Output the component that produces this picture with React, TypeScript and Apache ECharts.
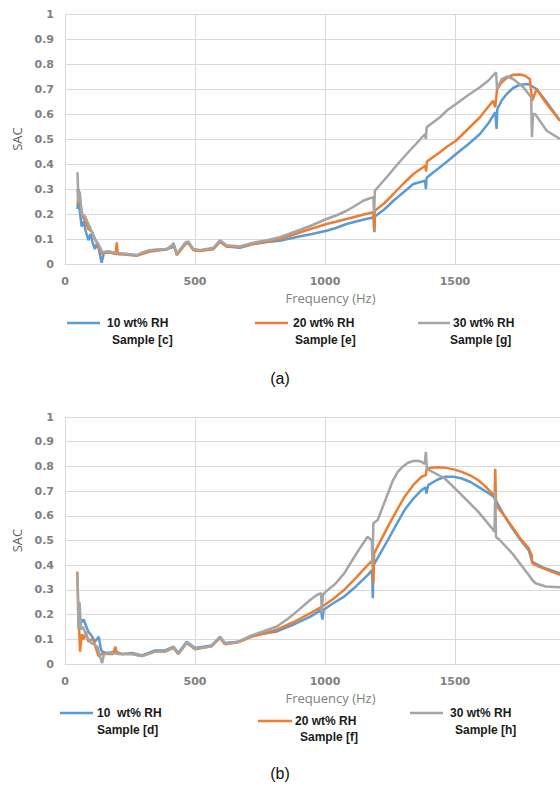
import React, { useEffect, useRef } from "react";
import * as echarts from "echarts";

const xTicks = [0, 500, 1000, 1500];
const yMax = 1;
const xMax = 1904;

const seriesNamesA = ["10 wt% RH Sample [c]", "20 wt% RH Sample [e]", "30 wt% RH Sample [g]"];
const seriesNamesB = ["10  wt% RH Sample [d]", "20 wt% RH Sample [f]", "30 wt% RH Sample [h]"];
const legendLine1A = ["10 wt% RH", "20 wt% RH", "30 wt% RH"];
const legendLine2A = ["Sample [c]", "Sample [e]", "Sample [g]"];
const legendLine1B = ["10  wt% RH", "20 wt% RH", "30 wt% RH"];
const legendLine2B = ["Sample [d]", "Sample [f]", "Sample [h]"];
const colors = ["#5B9BD5", "#ED7D31", "#A5A5A5"];

// Chart (a)
const blueA: [number, number][] = [
  [48, 0.22], [52, 0.3], [56, 0.22], [64, 0.15], [72, 0.17], [80, 0.13], [90, 0.095], [98, 0.12],
  [108, 0.08], [115, 0.06], [122, 0.08], [130, 0.06], [141, 0.005], [150, 0.045], [170, 0.05],
  [200, 0.04], [240, 0.04], [276, 0.035], [295, 0.042], [330, 0.055], [390, 0.06], [410, 0.065],
  [417, 0.08], [430, 0.04], [462, 0.08], [474, 0.085], [494, 0.058], [520, 0.055], [571, 0.06],
  [596, 0.09], [622, 0.07], [673, 0.065], [724, 0.08], [776, 0.088], [827, 0.093], [900, 0.11],
  [950, 0.12], [1006, 0.133], [1045, 0.145], [1083, 0.16], [1120, 0.17], [1150, 0.178],
  [1188, 0.187], [1190, 0.127], [1192, 0.19], [1230, 0.22], [1263, 0.253], [1300, 0.285],
  [1340, 0.32], [1385, 0.333], [1388, 0.3], [1391, 0.345], [1442, 0.387], [1470, 0.41],
  [1504, 0.44], [1550, 0.478], [1596, 0.52], [1630, 0.565], [1655, 0.607], [1660, 0.54],
  [1663, 0.62], [1680, 0.655], [1699, 0.68], [1725, 0.705], [1750, 0.717], [1782, 0.72],
  [1814, 0.7], [1853, 0.647], [1904, 0.573],
];
const orangeA: [number, number][] = [
  [48, 0.3], [52, 0.24], [57, 0.26], [64, 0.21], [72, 0.18], [80, 0.17], [90, 0.14], [103, 0.13],
  [115, 0.1], [128, 0.075], [141, 0.04], [150, 0.045], [175, 0.045], [195, 0.04], [199, 0.087],
  [203, 0.04], [237, 0.037], [276, 0.033], [295, 0.04], [327, 0.05], [391, 0.058], [417, 0.08],
  [430, 0.035], [462, 0.078], [474, 0.085], [494, 0.055], [519, 0.052], [571, 0.06], [596, 0.09],
  [622, 0.07], [673, 0.068], [724, 0.08], [776, 0.09], [827, 0.1], [900, 0.125], [950, 0.142],
  [1006, 0.16], [1045, 0.17], [1083, 0.18], [1120, 0.19], [1150, 0.198], [1186, 0.207],
  [1189, 0.133], [1192, 0.213], [1230, 0.245], [1263, 0.28], [1300, 0.32], [1340, 0.36],
  [1386, 0.393], [1389, 0.37], [1392, 0.41], [1442, 0.447], [1470, 0.47], [1504, 0.493],
  [1550, 0.54], [1596, 0.587], [1625, 0.625], [1647, 0.653], [1655, 0.627], [1662, 0.7],
  [1680, 0.727], [1700, 0.745], [1724, 0.757], [1750, 0.758], [1769, 0.753], [1788, 0.74],
  [1797, 0.653], [1814, 0.7], [1853, 0.64], [1904, 0.573],
];
const grayA: [number, number][] = [
  [48, 0.367], [52, 0.25], [57, 0.29], [64, 0.2], [77, 0.19], [90, 0.16], [103, 0.13], [115, 0.1],
  [128, 0.08], [138, 0.06], [145, 0.045], [154, 0.05], [199, 0.045], [237, 0.04], [276, 0.035],
  [295, 0.045], [327, 0.055], [391, 0.06], [410, 0.07], [417, 0.085], [430, 0.04], [462, 0.085],
  [474, 0.09], [494, 0.06], [519, 0.055], [571, 0.065], [596, 0.095], [622, 0.075], [673, 0.07],
  [724, 0.085], [776, 0.095], [827, 0.107], [900, 0.135], [950, 0.155], [1006, 0.18],
  [1045, 0.195], [1083, 0.213], [1115, 0.232], [1147, 0.253], [1170, 0.262], [1186, 0.267],
  [1189, 0.2], [1192, 0.293], [1237, 0.347], [1280, 0.4], [1314, 0.44], [1350, 0.48],
  [1385, 0.52], [1388, 0.5], [1391, 0.547], [1442, 0.587], [1470, 0.615], [1504, 0.64],
  [1550, 0.675], [1596, 0.707], [1630, 0.735], [1658, 0.767], [1662, 0.7], [1680, 0.74],
  [1699, 0.75], [1724, 0.74], [1763, 0.707], [1793, 0.667], [1796, 0.507], [1800, 0.6],
  [1808, 0.6], [1853, 0.533], [1904, 0.5],
];

// Chart (b)
const blueB: [number, number][] = [
  [50, 0.23], [54, 0.14], [60, 0.18], [66, 0.17], [72, 0.18], [79, 0.16], [90, 0.13], [105, 0.11],
  [115, 0.09], [130, 0.11], [138, 0.06], [143, 0.05], [160, 0.045], [194, 0.05], [220, 0.04],
  [258, 0.045], [296, 0.035], [347, 0.055], [385, 0.055], [417, 0.07], [436, 0.045], [468, 0.09],
  [500, 0.065], [564, 0.075], [596, 0.11], [615, 0.085], [666, 0.09], [717, 0.115], [815, 0.132],
  [880, 0.16], [944, 0.192], [985, 0.219], [990, 0.18], [995, 0.22], [1030, 0.245],
  [1074, 0.273], [1120, 0.315], [1164, 0.36], [1181, 0.38], [1184, 0.266], [1187, 0.4],
  [1242, 0.502], [1275, 0.565], [1306, 0.623], [1340, 0.67], [1371, 0.704], [1388, 0.715],
  [1390, 0.69], [1397, 0.724], [1430, 0.745], [1461, 0.758], [1495, 0.758], [1526, 0.751],
  [1560, 0.737], [1590, 0.717], [1620, 0.698], [1649, 0.677], [1658, 0.66], [1690, 0.6],
  [1720, 0.55], [1750, 0.505], [1784, 0.46], [1797, 0.414], [1840, 0.39], [1904, 0.367],
];
const orangeB: [number, number][] = [
  [47, 0.374], [52, 0.2], [58, 0.05], [64, 0.12], [72, 0.1], [80, 0.13], [90, 0.09], [100, 0.1],
  [110, 0.095], [120, 0.06], [130, 0.03], [140, 0.04], [155, 0.04], [185, 0.04], [194, 0.07],
  [200, 0.04], [258, 0.04], [296, 0.032], [347, 0.05], [385, 0.05], [417, 0.065], [436, 0.04],
  [468, 0.085], [500, 0.06], [564, 0.072], [596, 0.105], [615, 0.08], [666, 0.088], [717, 0.11],
  [815, 0.139], [880, 0.17], [944, 0.206], [990, 0.233], [1030, 0.262], [1074, 0.3],
  [1120, 0.35], [1164, 0.4], [1183, 0.42], [1186, 0.327], [1189, 0.448], [1242, 0.556],
  [1275, 0.62], [1306, 0.677], [1340, 0.725], [1371, 0.758], [1388, 0.765], [1391, 0.79],
  [1410, 0.795], [1435, 0.797], [1461, 0.795], [1495, 0.788], [1526, 0.778], [1560, 0.763],
  [1590, 0.744], [1620, 0.716], [1649, 0.684], [1653, 0.68], [1655, 0.79], [1658, 0.643],
  [1690, 0.6], [1720, 0.556], [1750, 0.51], [1784, 0.468], [1795, 0.44], [1797, 0.408],
  [1823, 0.394], [1904, 0.361],
];
const grayB: [number, number][] = [
  [48, 0.37], [52, 0.14], [56, 0.25], [62, 0.14], [70, 0.15], [80, 0.12], [90, 0.1], [100, 0.085],
  [110, 0.08], [125, 0.07], [135, 0.03], [143, 0.004], [150, 0.04], [175, 0.045], [220, 0.04],
  [258, 0.04], [296, 0.032], [347, 0.05], [385, 0.05], [417, 0.07], [436, 0.04], [468, 0.088],
  [500, 0.062], [564, 0.072], [596, 0.11], [615, 0.082], [666, 0.09], [717, 0.115], [815, 0.152],
  [860, 0.185], [900, 0.22], [944, 0.26], [970, 0.28], [985, 0.287], [988, 0.206], [992, 0.28],
  [1000, 0.29], [1040, 0.325], [1074, 0.367], [1105, 0.42], [1138, 0.475], [1164, 0.515],
  [1180, 0.5], [1183, 0.4], [1186, 0.57], [1203, 0.583], [1220, 0.63], [1242, 0.69],
  [1260, 0.74], [1280, 0.778], [1300, 0.8], [1319, 0.815], [1340, 0.822], [1358, 0.823],
  [1372, 0.818], [1384, 0.81], [1388, 0.859], [1392, 0.79], [1461, 0.751], [1526, 0.684],
  [1590, 0.616], [1642, 0.55], [1652, 0.535], [1655, 0.7], [1658, 0.514], [1674, 0.5],
  [1720, 0.448], [1771, 0.378], [1784, 0.36], [1797, 0.34], [1810, 0.327], [1849, 0.314],
  [1904, 0.311],
];

const gridColor = "#d9d9d9";
const labelColor = "#808080";

function xAxisCfg(gridIndex: number) {
  return {
    type: "value",
    gridIndex,
    min: 0,
    max: xMax,
    interval: 500,
    name: "Frequency (Hz)",
    nameLocation: "middle",
    nameGap: 27,
    nameTextStyle: { color: "#808080", fontSize: 13, fontFamily: "Open Sans", padding: [0, 0, 0, 36] },
    axisLine: { show: true, lineStyle: { color: gridColor } },
    axisTick: { show: false },
    splitLine: { show: true, lineStyle: { color: gridColor, width: 1 } },
    axisLabel: {
      color: labelColor,
      fontSize: 11,
      fontWeight: "bold",
      fontFamily: "DejaVu Sans",
      margin: 12,
      showMaxLabel: false,
      formatter: (v: number) => (xTicks.includes(v) ? String(v) : ""),
    },
  };
}

function yAxisCfg(gridIndex: number) {
  return {
    type: "value",
    gridIndex,
    min: 0,
    max: yMax,
    interval: 0.1,
    name: "SAC",
    nameLocation: "middle",
    nameGap: 40,
    nameRotate: 90,
    nameTextStyle: { color: "#595959", fontSize: 13, fontFamily: "Open Sans" },
    axisLine: { show: false },
    axisTick: { show: false },
    splitLine: { show: true, lineStyle: { color: gridColor, width: 1 } },
    axisLabel: {
      color: labelColor,
      fontSize: 11,
      fontWeight: "bold",
      fontFamily: "DejaVu Sans",
      margin: 11,
      formatter: (v: number) => String(Math.round(v * 10) / 10),
    },
  };
}

function lineSeries(name: string, data: [number, number][], idx: number, color: string) {
  return {
    type: "line",
    name,
    xAxisIndex: idx,
    yAxisIndex: idx,
    data,
    showSymbol: false,
    symbol: "none",
    lineStyle: { color, width: 2.5 },
    itemStyle: { color },
  };
}

function legendGraphics(
  rows: { x1: number; x2: number; y: number; tx1: number; tx2: number; y2: number; color: string; t1: string; t2: string }[]
) {
  const out: any[] = [];
  rows.forEach((r) => {
    out.push({
      type: "line",
      shape: { x1: r.x1, y1: r.y, x2: r.x2, y2: r.y },
      style: { stroke: r.color, lineWidth: 2.5 },
    });
    out.push({
      type: "text",
      x: r.tx1,
      y: r.y,
      style: { text: r.t1, fill: "#1a1a1a", font: "bold 12px 'Liberation Sans', Arial, sans-serif", verticalAlign: "middle", align: "left" },
    });
    out.push({
      type: "text",
      x: r.tx2,
      y: r.y2,
      style: { text: r.t2, fill: "#1a1a1a", font: "bold 12px 'Liberation Sans', Arial, sans-serif", verticalAlign: "middle", align: "left" },
    });
  });
  return out;
}

export default function App() {
  const ref = useRef<HTMLDivElement>(null);
  useEffect(() => {
    if (!ref.current) return;
    const chart = echarts.init(ref.current, undefined, { renderer: "svg" });
    const graphics = [
      ...legendGraphics([
        { x1: 67, x2: 100, y: 323, tx1: 107, tx2: 112, y2: 340, color: colors[0], t1: legendLine1A[0], t2: legendLine2A[0] },
        { x1: 255, x2: 288, y: 323, tx1: 293, tx2: 295, y2: 340, color: colors[1], t1: legendLine1A[1], t2: legendLine2A[1] },
        { x1: 418, x2: 450, y: 323, tx1: 453, tx2: 450, y2: 340, color: colors[2], t1: legendLine1A[2], t2: legendLine2A[2] },
        { x1: 60, x2: 93, y: 713, tx1: 97, tx2: 97, y2: 730, color: colors[0], t1: legendLine1B[0], t2: legendLine2B[0] },
        { x1: 258, x2: 292, y: 721, tx1: 295, tx2: 300, y2: 737, color: colors[1], t1: legendLine1B[1], t2: legendLine2B[1] },
        { x1: 410, x2: 443, y: 713, tx1: 450, tx2: 455, y2: 730, color: colors[2], t1: legendLine1B[2], t2: legendLine2B[2] },
      ]),
      {
        type: "text",
        x: 280,
        y: 378,
        style: { text: "(a)", fill: "#111", font: "16px 'Liberation Sans', Arial, sans-serif", align: "center", verticalAlign: "middle" },
      },
      {
        type: "text",
        x: 280,
        y: 773,
        style: { text: "(b)", fill: "#111", font: "16px 'Liberation Sans', Arial, sans-serif", align: "center", verticalAlign: "middle" },
      },
    ];
    chart.setOption({
      animation: false,
      backgroundColor: "#ffffff",
      grid: [
        { left: 65, right: 0, top: 14, height: 250 },
        { left: 65, right: 0, top: 417, height: 247 },
      ],
      xAxis: [xAxisCfg(0), xAxisCfg(1)],
      yAxis: [yAxisCfg(0), yAxisCfg(1)],
      series: [
        lineSeries(seriesNamesA[0], blueA, 0, colors[0]),
        lineSeries(seriesNamesA[1], orangeA, 0, colors[1]),
        lineSeries(seriesNamesA[2], grayA, 0, colors[2]),
        lineSeries(seriesNamesB[0], blueB, 1, colors[0]),
        lineSeries(seriesNamesB[1], orangeB, 1, colors[1]),
        lineSeries(seriesNamesB[2], grayB, 1, colors[2]),
      ],
      graphic: graphics,
    });
    return () => chart.dispose();
  }, []);
  return <div ref={ref} style={{ position: "absolute", left: 0, top: 0, width: 560, height: 787 }} />;
}
